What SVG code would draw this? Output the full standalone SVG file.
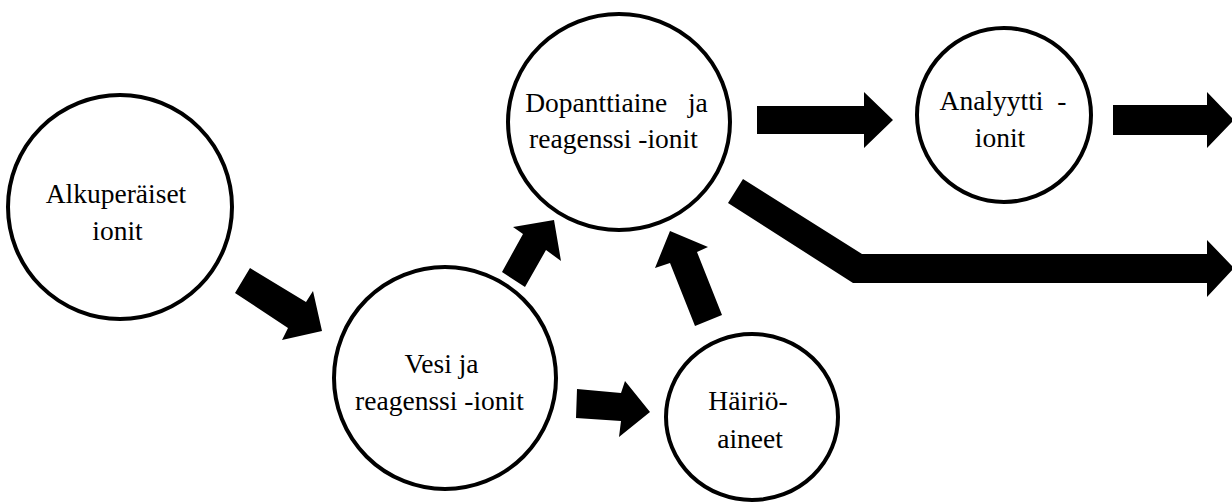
<svg xmlns="http://www.w3.org/2000/svg" width="1232" height="502" viewBox="0 0 1232 502">
  <style>
    .node { fill: #ffffff; stroke: #000000; stroke-width: 4; }
    .label { font-family: "Liberation Serif", "Times New Roman", serif; font-size: 27.5px; fill: #000000; text-anchor: middle; white-space: pre; }
    .arrow { fill: #000000; stroke: none; }
  </style>
  <rect width="1232" height="502" fill="#ffffff"/>

  <!-- block arrows -->
  <g id="connectors">
    <polygon class="arrow" points="250,268 306,302 313,291 322,331 282,340 288,328 235,293"/>
    <polygon class="arrow" points="502,272 523,234 513,227 554,220 561,261 546,250 525,287"/>
    <polygon class="arrow" points="577,389 621,393 625,381 650,412 619,437 621,421 576,418"/>
    <polygon class="arrow" points="695,326 670,263 655,268 670,231 708,247 697,252 722,315"/>
    <polygon class="arrow" points="757,106 864,106 864,92 893,120 864,148 864,134 757,134"/>
    <polygon class="arrow" points="1113,105 1207,105 1207,92 1234,120 1207,148 1207,135 1113,135"/>
    <polygon class="arrow" points="743,179 862,254 1207,254 1207,240 1234,268 1207,297 1207,283 853,283 728,203"/>
  </g>

  <g id="node-alkuperaiset">
    <circle class="node" cx="120" cy="207" r="112"/>
    <text class="label" x="116" y="203">Alkuperäiset</text>
    <text class="label" x="117.5" y="240">ionit</text>
  </g>

  <g id="node-vesi">
    <circle class="node" cx="445" cy="378" r="111"/>
    <text class="label" x="441.5" y="373">Vesi ja</text>
    <text class="label" x="439.5" y="410">reagenssi -ionit</text>
  </g>

  <g id="node-dopanttiaine">
    <ellipse class="node" cx="619" cy="122" rx="111" ry="108"/>
    <text class="label" x="616.5" y="112">Dopanttiaine   ja</text>
    <text class="label" x="613.5" y="148">reagenssi -ionit</text>
  </g>

  <g id="node-analyytti">
    <circle class="node" cx="1004" cy="115" r="87"/>
    <text class="label" x="1003" y="110">Analyytti  -</text>
    <text class="label" x="1000" y="147">ionit</text>
  </g>

  <g id="node-hairio">
    <ellipse class="node" cx="752" cy="417" rx="86" ry="83"/>
    <text class="label" x="748" y="410">Häiriö-</text>
    <text class="label" x="750" y="448">aineet</text>
  </g>
</svg>
